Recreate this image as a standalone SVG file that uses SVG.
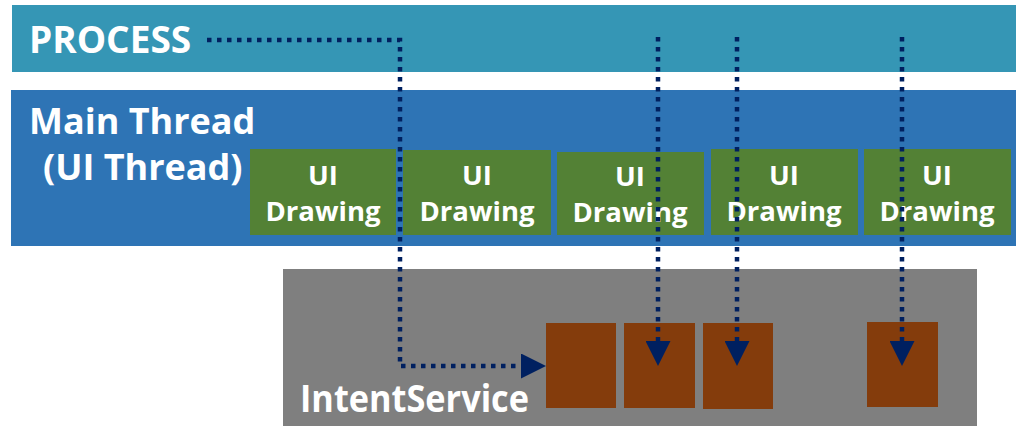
<svg xmlns="http://www.w3.org/2000/svg" width="1030" height="443" viewBox="0 0 1030 443">
<style>
.lbl{font-family:"Open Sans","Noto Sans","Liberation Sans",sans-serif;fill:#fff;font-weight:700}
.ui{font-size:27.5px;text-anchor:middle}
.green{fill:#538135}
.brown{fill:#843c0c}
.dot{fill:none;stroke:#002060;stroke-width:4.5;stroke-dasharray:4.5 5.5}
</style>
<defs>
<marker id="ah" markerUnits="userSpaceOnUse" markerWidth="25" markerHeight="25" viewBox="0 0 25 25" refX="0" refY="12.5" orient="auto">
<path d="M0,0 L25,12.5 L0,25 Z" fill="#002060"/>
</marker>
</defs>
<rect width="1030" height="443" fill="#fff"/>
<g id="process">
<rect x="12" y="5" width="1004" height="67" fill="#3596b5"/>
<text class="lbl" x="29" y="53" font-size="37">PROCESS</text>
</g>
<g id="main-thread">
<rect x="11" y="90" width="1005" height="156" fill="#2e74b5"/>
<text class="lbl" x="29" y="134" font-size="36">Main Thread</text>
<text class="lbl" x="43" y="180" font-size="36">(UI Thread)</text>
</g>
<g id="ui1"><rect class="green" x="250" y="149" width="146" height="86"/><text class="lbl ui" x="323" y="185">UI</text><text class="lbl ui" x="323" y="221">Drawing</text></g>
<g id="ui2"><rect class="green" x="403" y="150" width="148" height="85"/><text class="lbl ui" x="477" y="185">UI</text><text class="lbl ui" x="477" y="221">Drawing</text></g>
<g id="ui3"><rect class="green" x="557" y="152" width="147" height="83"/><text class="lbl ui" x="630" y="186">UI</text><text class="lbl ui" x="630" y="222">Drawing</text></g>
<g id="ui4"><rect class="green" x="711" y="149" width="147" height="86"/><text class="lbl ui" x="784" y="185">UI</text><text class="lbl ui" x="784" y="221">Drawing</text></g>
<g id="ui5"><rect class="green" x="864" y="149" width="147" height="86"/><text class="lbl ui" x="937" y="185">UI</text><text class="lbl ui" x="937" y="221">Drawing</text></g>
<g id="intentservice">
<rect x="283" y="269" width="694" height="157" fill="#7f7f7f"/>
<text class="lbl" x="300" y="412" font-size="37" font-weight="600" textLength="229" lengthAdjust="spacingAndGlyphs">IntentService</text>
</g>
<g id="task1"><rect class="brown" x="546" y="323" width="70" height="85"/></g>
<g id="task2"><rect class="brown" x="624" y="323" width="71" height="85"/></g>
<g id="task3"><rect class="brown" x="703" y="323" width="70" height="86"/></g>
<g id="task4"><rect class="brown" x="867" y="322" width="71" height="85"/></g>
<g id="connectors">
<path class="dot" d="M207,40 H400 V366 H521" marker-end="url(#ah)"/>
<path class="dot" d="M658,37 V341" marker-end="url(#ah)"/>
<path class="dot" d="M737,37 V341" marker-end="url(#ah)"/>
<path class="dot" d="M902,37 V341" marker-end="url(#ah)"/>
</g>
</svg>
